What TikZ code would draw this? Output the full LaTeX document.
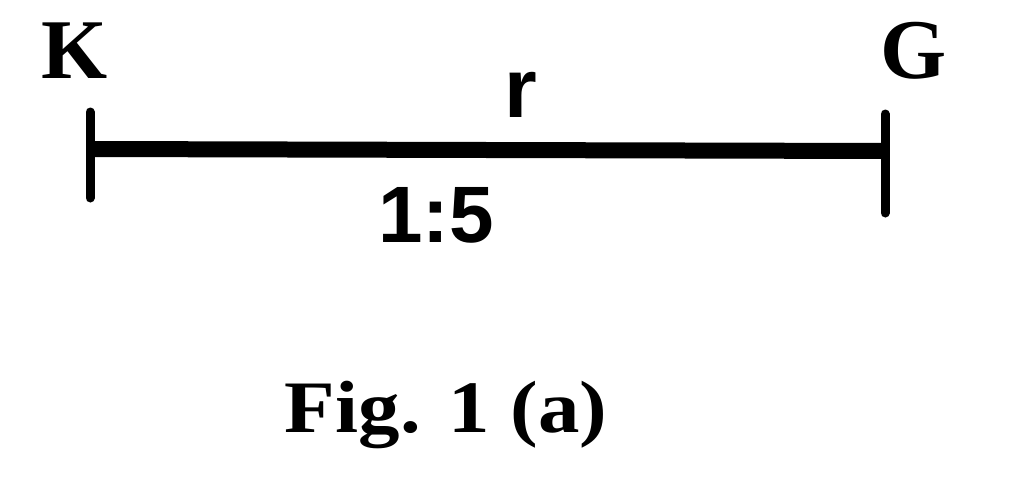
\documentclass[tikz,border=0pt]{standalone}
\usepackage{fontspec}
\usepackage{tikz}
\usetikzlibrary{positioning,calc}
\setmainfont{Liberation Serif}
\newfontfamily\labelsans{Liberation Sans}
\newfontfamily\captionserif[FakeStretch=1.12]{Liberation Serif}

\begin{document}
\begin{tikzpicture}[x=1pt,y=-1pt,
    endlabel/.style={anchor=base,inner sep=0pt,font=\bfseries\fontsize{85}{85}\selectfont},
    scalelabel/.style={anchor=base,inner sep=0pt,font=\labelsans\bfseries\fontsize{82}{82}\selectfont},
    seg/.style={line width=16pt},
    tick/.style={line width=9pt,line cap=round}]
    \useasboundingbox (0,0) rectangle (1024,490);

    % End points
    \coordinate (Kend) at (90,149);
    \coordinate (Gend) at (885,151);
    \node[endlabel] (Klab) at (75,78) {K};
    \node[endlabel] (Glab) at (914,78) {G};

    % Segment KG
    \draw[seg] (Kend) -- (Gend);
    \draw[tick] ($(Kend)+(0,-37)$) -- ($(Kend)+(0,49)$);
    \draw[tick] ($(Gend)+(0,-37)$) -- ($(Gend)+(0,62)$);

    % Labels
    \node[scalelabel,font=\labelsans\bfseries\fontsize{84}{84}\selectfont] (rlab) at (521,117) {r};
    \node[scalelabel,font=\labelsans\bfseries\fontsize{80}{80}\selectfont] (ratio) at (436,242) {1:5};

    % Caption
    \node[anchor=base,inner sep=0pt,font=\captionserif\bfseries\fontsize{74}{74}\selectfont] (cap) at (446,432) {Fig. 1 (a)};
\end{tikzpicture}
\end{document}
